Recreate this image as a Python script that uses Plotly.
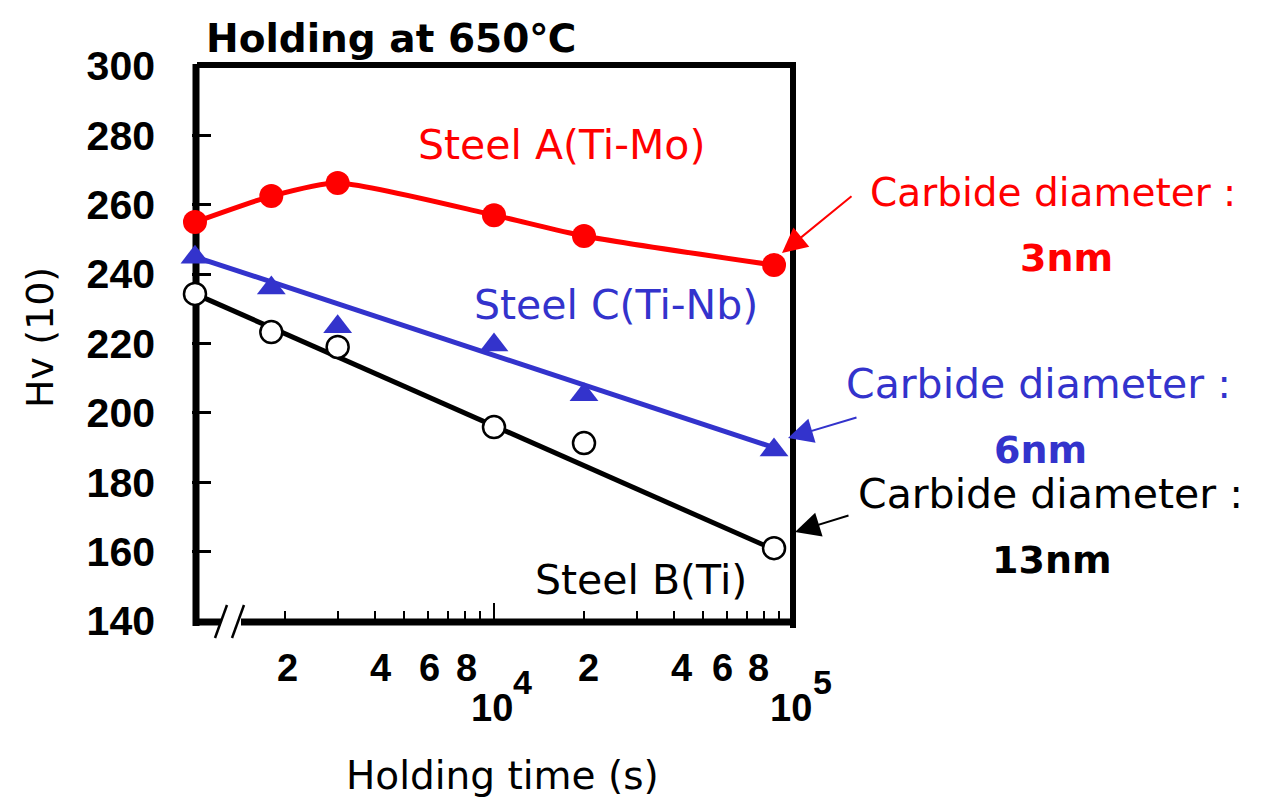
import math
import plotly.graph_objects as go

# Holding time (s) and Vickers hardness Hv(10) for the three steels
time_s = [1000, 1800, 3000, 10000, 20000, 86400]
hv_steel_a = [255.0, 262.5, 266.3, 257.0, 251.0, 242.6]
hv_steel_c = [244.9, 236.0, 224.8, 219.6, 205.2, 189.3]
hv_steel_b = [234.3, 223.3, 219.0, 195.9, 191.3, 161.0]

# straight trend lines (end points) for steels C and B
trend_time = [1000, 86400]
trend_steel_c = [245.0, 190.0]
trend_steel_b = [234.3, 160.6]

# x-axis tick labels
xtick_minor_vals = [2000, 4000, 6000, 8000, 20000, 40000, 60000, 80000]
xtick_minor_text = ["2", "4", "6", "8", "2", "4", "6", "8"]
xtick_decade_exp = ["4", "5"]
ytick_vals = [140, 160, 180, 200, 220, 240, 260, 280, 300]

RED = "#ff0000"
BLUE = "#3333cc"
BLACK = "#000000"

W, H = 1271, 806
PL, PR, PT, PB = 192, 793, 66, 621   # plot area in pixels
XRANGE = [2.99, 5.0]

TXT = "DejaVu Sans"
NUM = "Liberation Sans"


def px(x):
    return (x - PL) / (PR - PL)


def py(y):
    return (PB - y) / (PB - PT)


fig = go.Figure()

# Steel A: smooth curve with filled circles
fig.add_trace(go.Scatter(
    x=time_s, y=hv_steel_a, mode="lines+markers",
    line=dict(color=RED, width=5, shape="spline", smoothing=0.6),
    marker=dict(symbol="circle", size=24, color=RED),
    cliponaxis=False, showlegend=False))

# Steel C: trend line + triangles
fig.add_trace(go.Scatter(
    x=trend_time, y=trend_steel_c, mode="lines",
    line=dict(color=BLUE, width=5), cliponaxis=False, showlegend=False))
fig.add_trace(go.Scatter(
    x=time_s, y=hv_steel_c, mode="markers",
    marker=dict(symbol="triangle-up", size=25, color=BLUE),
    cliponaxis=False, showlegend=False))

# Steel B: trend line + open circles
fig.add_trace(go.Scatter(
    x=trend_time, y=trend_steel_b, mode="lines",
    line=dict(color=BLACK, width=5), cliponaxis=False, showlegend=False))
fig.add_trace(go.Scatter(
    x=time_s, y=hv_steel_b, mode="markers",
    marker=dict(symbol="circle", size=22, color="white",
                line=dict(color=BLACK, width=2.5)),
    cliponaxis=False, showlegend=False))

# frame: left, top, right, and a broken bottom axis
shapes = []


def seg(x0, y0, x1, y1, width):
    shapes.append(dict(type="line", xref="paper", yref="paper",
                       x0=px(x0), x1=px(x1), y0=py(y0), y1=py(y1),
                       line=dict(color=BLACK, width=width), layer="below"))


seg(196, 626, 196, 64, 7)
seg(197, 65, 796, 65, 6)
seg(793, 628, 793, 63, 6)
seg(193, 622, 221, 622, 7)
seg(241, 622, 795, 622, 7)
for bx in (215, 232):
    seg(bx, 638, bx + 12, 605, 2.5)

annotations = []


def label(text, x, y, size, color=BLACK, weight="normal", font=TXT, angle=0):
    annotations.append(dict(
        text=text, xref="paper", yref="paper", x=px(x), y=py(y),
        xanchor="center", yanchor="middle", showarrow=False, textangle=angle,
        font=dict(family=font, size=size, color=color, weight=weight)))


label("Holding at 650℃", 391, 38, 39, weight="bold")
label("Steel A(Ti-Mo)", 561, 145, 41, RED)
label("Steel C(Ti-Nb)", 616, 305, 41, BLUE)
label("Steel B(Ti)", 641, 580, 41, BLACK)

label("Carbide diameter :", 1053, 192, 39, RED)
label("3nm", 1066, 258, 38, RED, weight="bold")
label("Carbide diameter :", 1038, 384, 41, BLUE)
label("6nm", 1040, 450, 38, BLUE, weight="bold")
label("Carbide diameter :", 1050, 494, 41, BLACK)
label("13nm", 1052, 560, 38, BLACK, weight="bold")

label("Hv (10)", 40, 338, 38, angle=-90)
label("Holding time (s)", 502, 775, 39)

# arrows from the carbide notes to the last points
for hx, hy, tx, ty, col in [(782, 253, 853, 195, RED),
                            (788, 438, 858, 417, BLUE),
                            (795, 532, 850, 515, BLACK)]:
    annotations.append(dict(
        text="", xref="paper", yref="paper", x=px(hx), y=py(hy),
        ax=tx - hx, ay=ty - hy, showarrow=True,
        arrowhead=2, arrowsize=2.5, arrowwidth=2, arrowcolor=col))

# x tick labels on the log axis
xtick_nudge = [3, 5, 2, 1, 4, 7, -4, -6]
for v, t, d in zip(xtick_minor_vals, xtick_minor_text, xtick_nudge):
    xpix = PL + (math.log10(v) - XRANGE[0]) / (XRANGE[1] - XRANGE[0]) * (PR - PL) + d
    label(t, xpix, 668, 38, weight="bold", font=NUM)
for dec, e in zip([4, 5], xtick_decade_exp):
    xpix = PL + (dec - XRANGE[0]) / (XRANGE[1] - XRANGE[0]) * (PR - PL)
    label("10", xpix - 2, 708, 38, weight="bold", font=NUM)
    label(e, xpix + 29, 682, 34, weight="bold", font=NUM)

fig.update_layout(
    width=W, height=H,
    margin=dict(l=PL, r=W - PR, t=PT, b=H - PB, pad=0),
    paper_bgcolor="white", plot_bgcolor="white",
    shapes=shapes, annotations=annotations,
    xaxis=dict(type="log", range=XRANGE, showgrid=False, zeroline=False,
               showline=False, showticklabels=False,
               tickvals=[10000], ticks="inside", ticklen=18, tickwidth=2,
               tickcolor=BLACK,
               minor=dict(tickvals=[2000, 3000, 4000, 5000, 6000, 7000, 8000, 9000,
                                    20000, 30000, 40000, 50000, 60000, 70000,
                                    80000, 90000],
                          ticks="inside", ticklen=10, tickwidth=2,
                          tickcolor=BLACK)),
    yaxis=dict(range=[140, 300], showgrid=False, zeroline=False,
               showline=False, tickvals=ytick_vals, ticks="inside",
               ticklen=19, tickwidth=3, tickcolor=BLACK,
               ticklabelstandoff=36,
               tickfont=dict(family=NUM, size=41, color=BLACK, weight="bold")),
)

fig.write_html("out.html")
